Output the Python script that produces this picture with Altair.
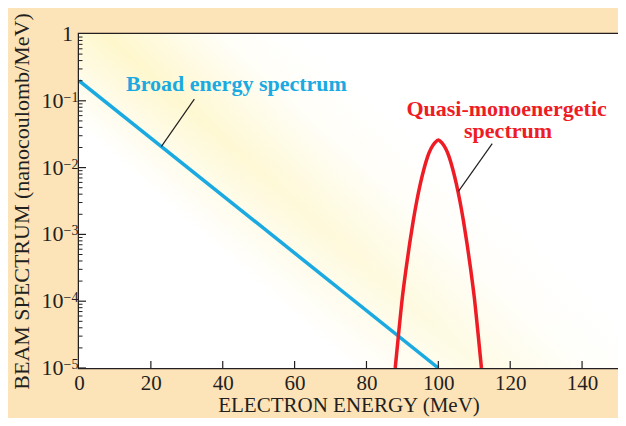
import altair as alt
import pandas as pd

# ---- data ----
broad_x = [0, 100]
broad_y = [0.2, 1e-5]

mono_x = [88, 89, 90, 91, 92, 93, 94, 95, 96, 97, 98, 99, 100,
          101, 102, 103, 104, 105, 106, 107, 108, 109, 110, 111, 112]
mono_y = [1e-5, 3.5e-5, 1.15e-4, 3.0e-4, 7.2e-4, 1.58e-3, 3.16e-3, 5.75e-3, 9.55e-3, 1.45e-2, 1.95e-2, 2.34e-2, 2.6e-2,
          2.34e-2, 1.95e-2, 1.45e-2, 9.55e-3, 5.75e-3, 3.16e-3, 1.58e-3, 7.2e-4, 3.0e-4, 1.15e-4, 3.5e-5, 1e-5]

x_ticks = [20, 40, 60, 80, 100, 120, 140]
x_labels = [0, 20, 40, 60, 80, 100, 120, 140]
y_major = [1e-5, 1e-4, 1e-3, 1e-2, 1e-1]
y_minor = [m * 10.0 ** e for e in range(-5, 0) for m in range(2, 10)]
y_lab_vals = [1e-5, 1e-4, 1e-3, 1e-2, 1e-1]
y_lab_base = ["10", "10", "10", "10", "10"]
y_lab_exp = ["\u22125", "\u22124", "\u22123", "\u22122", "\u22121"]
y_top_val = [1]
y_top_text = ["1"]

# annotation leaders (data coords) and texts
leader_x = [22.9, 105.6]
leader_y = [0.0206, 0.00442]
leader_x2 = [32.1, 115.0]
leader_y2 = [0.106, 0.0228]

blue_text = ["Broad energy spectrum"]
blue_tx = [13.1]
blue_ty = [0.14]
red_text = ["Quasi-monoenergetic", "spectrum"]
red_tx = [119.0, 119.4]
red_ty = [0.0594, 0.0280]

BLUE = "#1BA9E1"
RED = "#EE1C25"
DARK = "#231F20"
BG = "#FDE3B8"
FONT = "Liberation Serif"

W, H = 539, 334

xs = alt.Scale(domain=[0, 150], nice=False, zero=False)
ys = alt.Scale(type="log", domain=[1e-5, 1], nice=False)

# background gradient box
bg_df = pd.DataFrame({"x": [0], "x2": [150], "y": [1e-5], "y2": [1]})
grad = alt.LinearGradient(
    gradient="linear", x1=0, y1=0.7, x2=1, y2=0,
    stops=[alt.GradientStop(offset=0, color="#FFFFFF"),
           alt.GradientStop(offset=0.2, color="#FFFFFF"),
           alt.GradientStop(offset=0.36, color="#FEF7CB"),
           alt.GradientStop(offset=0.5, color="#FFFEF6"),
           alt.GradientStop(offset=0.6, color="#FFFFFF"),
           alt.GradientStop(offset=1, color="#FFFFFF")])
fade = alt.LinearGradient(
    gradient="linear", x1=0, y1=0, x2=0.7, y2=1,
    stops=[alt.GradientStop(offset=0, color="rgba(255,255,255,0)"),
           alt.GradientStop(offset=1, color="rgba(255,255,255,0.5)")])

bg = alt.Chart(bg_df).mark_rect(color=grad).encode(
    x=alt.X("x:Q", scale=xs, axis=alt.Axis(
        title="ELECTRON ENERGY (MeV)", values=x_labels, labelFlush=False,
        ticks=False, domain=False, grid=False, labelFont=FONT, labelFontSize=21,
        labelColor=DARK, labelPadding=4, titleFont=FONT, titleFontSize=21,
        titleFontWeight="normal", titleColor=DARK, titlePadding=1)),
    x2="x2:Q",
    y=alt.Y("y:Q", scale=ys, axis=alt.Axis(
        title="BEAM SPECTRUM (nanocoulomb/MeV)", labels=False,
        ticks=False, domain=False, grid=False, titleFont=FONT, titleFontSize=22,
        titleFontWeight="normal", titleColor=DARK, titlePadding=46)),
    y2="y2:Q",
)
bg2 = alt.Chart(bg_df).mark_rect(color=fade).encode(
    x=alt.X("x:Q", scale=xs), x2="x2:Q", y=alt.Y("y:Q", scale=ys), y2="y2:Q")

broad_df = pd.DataFrame({"x": broad_x, "y": broad_y})
broad = alt.Chart(broad_df).mark_line(color=BLUE, strokeWidth=3.5, clip=True).encode(
    x=alt.X("x:Q", scale=xs), y=alt.Y("y:Q", scale=ys))

mono_df = pd.DataFrame({"x": mono_x, "y": mono_y})
mono = alt.Chart(mono_df).mark_line(color=RED, strokeWidth=3.5, interpolate="monotone", clip=True).encode(
    x=alt.X("x:Q", scale=xs), y=alt.Y("y:Q", scale=ys))

lead_df = pd.DataFrame({"x": leader_x, "y": leader_y, "x2": leader_x2, "y2": leader_y2})
leaders = alt.Chart(lead_df).mark_rule(color=DARK, strokeWidth=1.2).encode(
    x=alt.X("x:Q", scale=xs), y=alt.Y("y:Q", scale=ys), x2="x2:Q", y2="y2:Q")

bt_df = pd.DataFrame({"x": blue_tx, "y": blue_ty, "t": blue_text})
btext = alt.Chart(bt_df).mark_text(font=FONT, fontSize=22, fontWeight="bold", color=BLUE,
                                   align="left", baseline="alphabetic").encode(
    x=alt.X("x:Q", scale=xs), y=alt.Y("y:Q", scale=ys), text="t:N")

rt_df = pd.DataFrame({"x": red_tx, "y": red_ty, "t": red_text})
rtext = alt.Chart(rt_df).mark_text(font=FONT, fontSize=22, fontWeight="bold", color=RED,
                                   align="center", baseline="alphabetic").encode(
    x=alt.X("x:Q", scale=xs), y=alt.Y("y:Q", scale=ys), text="t:N")

xt_df = pd.DataFrame({"x": x_ticks})
xticks = alt.Chart(xt_df).mark_rule(color=DARK, strokeWidth=1.2).encode(
    x=alt.X("x:Q", scale=xs), y=alt.value(H), y2=alt.value(H - 7))

ymaj_df = pd.DataFrame({"y": y_major})
ymaj = alt.Chart(ymaj_df).mark_rule(color=DARK, strokeWidth=1.2).encode(
    y=alt.Y("y:Q", scale=ys), x=alt.value(0), x2=alt.value(7))

ymin_df = pd.DataFrame({"y": y_minor})
ymin = alt.Chart(ymin_df).mark_rule(color=DARK, strokeWidth=1).encode(
    y=alt.Y("y:Q", scale=ys), x=alt.value(0), x2=alt.value(3.5))

# y tick labels: "10" with a raised exponent
ylab_df = pd.DataFrame({"y": y_lab_vals, "b": y_lab_base, "e": y_lab_exp})
ybase = alt.Chart(ylab_df).mark_text(font=FONT, fontSize=22, color=DARK, align="right",
                                     baseline="middle").encode(
    y=alt.Y("y:Q", scale=ys), x=alt.value(-15.5), text="b:N")
yexp = alt.Chart(ylab_df).mark_text(font=FONT, fontSize=14, color=DARK, align="left",
                                    baseline="alphabetic", dy=1).encode(
    y=alt.Y("y:Q", scale=ys), x=alt.value(-15.5), text="e:N")
ytop_df = pd.DataFrame({"y": y_top_val, "t": y_top_text})
ytop = alt.Chart(ytop_df).mark_text(font=FONT, fontSize=22, color=DARK, align="right",
                                    baseline="middle").encode(
    y=alt.Y("y:Q", scale=ys), x=alt.value(-6), text="t:N")

chart = alt.layer(bg, bg2, broad, mono, leaders, btext, rtext, xticks, ymaj, ymin,
                  ybase, yexp, ytop).properties(
    width=W, height=H,
    autosize=alt.AutoSizeParams(type="none"),
    padding={"left": 71, "top": 26, "right": 0, "bottom": 50},
    background=BG,
).configure_view(stroke=DARK, strokeWidth=2.5)

chart.save("out.html", embed_options={"renderer": "svg", "actions": False})
